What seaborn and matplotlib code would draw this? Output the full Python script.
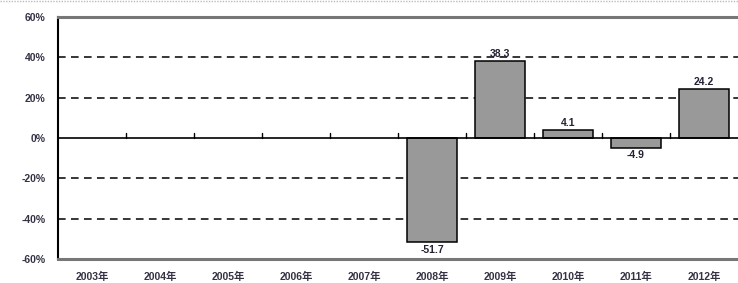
import matplotlib
matplotlib.use("Agg")
import numpy as np
import pandas as pd
import matplotlib.pyplot as plt
import seaborn as sns

years = ["2003年", "2004年", "2005年", "2006年", "2007年",
         "2008年", "2009年", "2010年", "2011年", "2012年"]
growth = [np.nan, np.nan, np.nan, np.nan, np.nan, -51.7, 38.3, 4.1, -4.9, 24.2]
y_ticks = [-60, -40, -20, 0, 20, 40, 60]
y_tick_labels = ["-60%", "-40%", "-20%", "0%", "20%", "40%", "60%"]

sns.set_style("white")
plt.rcParams["font.family"] = ["Liberation Sans", "Noto Sans CJK SC", "DejaVu Sans"]

df = pd.DataFrame({"year": years, "growth": growth})

fig = plt.figure(figsize=(7.38, 2.83), dpi=100)
ax = fig.add_axes([0.0786, 0.085, 0.9214, 0.855])

# dashed grid first so bars sit on top
for v in y_ticks:
    if v in (0, 60, -60):
        continue
    ax.axhline(v, color="black", lw=1.1, ls=(0, (5, 3.5)), zorder=0)

sns.barplot(data=df, x="year", y="growth", order=years, color="#999999",
            saturation=1, edgecolor="black", linewidth=1.1, width=0.73,
            ax=ax, zorder=2)

ax.axhline(0, color="black", lw=1.2, zorder=3)
# small category-boundary ticks on the zero line
for i in range(len(years) - 1):
    ax.plot([i + 0.5, i + 0.5], [0, 2.5], color="black", lw=1.0, zorder=3)

for i, v in enumerate(growth):
    if np.isnan(v):
        continue
    if v >= 0:
        ax.text(i, v + 1.0, f"{v:.1f}", ha="center", va="bottom",
                fontsize=7.5, fontweight="bold", color="#222233")
    else:
        ax.text(i, v - 1.2, f"{v:.1f}", ha="center", va="top",
                fontsize=7.5, fontweight="bold", color="#222233")

ax.set_ylim(-60, 60)
ax.set_xlim(-0.5, len(years) - 0.5)
ax.set_yticks(y_ticks)
ax.set_yticklabels(y_tick_labels)
ax.set_xlabel("")
ax.set_ylabel("")
ax.tick_params(axis="y", length=0, pad=9, labelsize=7.5, labelcolor="#333344")
ax.tick_params(axis="x", length=0, pad=9, labelsize=7.5, labelcolor="#333344")
for lab in ax.get_yticklabels() + ax.get_xticklabels():
    lab.set_fontweight("bold")

ax.spines["left"].set_color("black")
ax.spines["left"].set_linewidth(1.5)
ax.spines["top"].set_color("#777777")
ax.spines["top"].set_linewidth(2.2)
ax.spines["bottom"].set_color("#777777")
ax.spines["bottom"].set_linewidth(2.2)
ax.spines["right"].set_visible(False)

# faint dotted border at the very top of the picture
fig.add_artist(plt.Line2D([0, 1], [0.997, 0.997], transform=fig.transFigure,
                          color="#bbbbbb", lw=1, ls=(0, (1, 1))))

fig.savefig("out.png", dpi=100)
